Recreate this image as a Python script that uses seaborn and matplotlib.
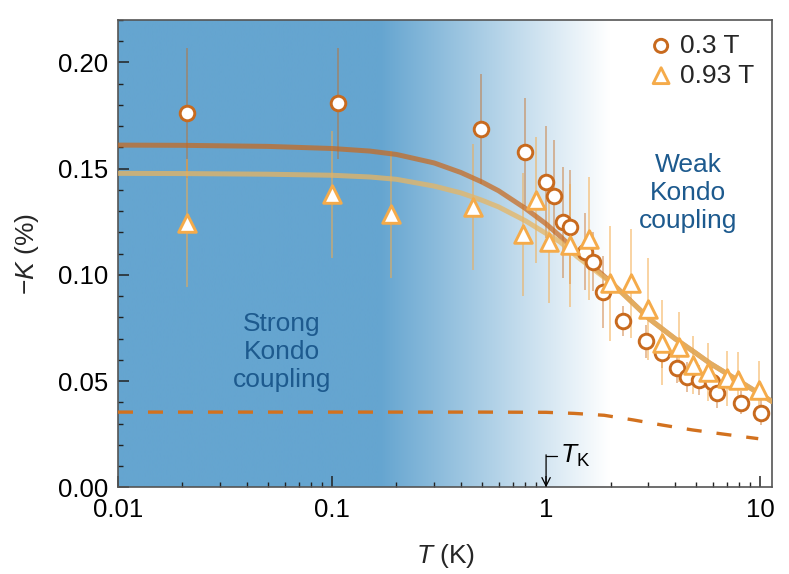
import numpy as np
import pandas as pd
import matplotlib
matplotlib.use("Agg")
import matplotlib.pyplot as plt
import seaborn as sns
from matplotlib.ticker import FixedLocator, MultipleLocator, LogLocator, NullFormatter, FuncFormatter

# ---------------- data ----------------
T_03 = [0.0210, 0.107, 0.498, 0.798, 0.997, 1.093, 1.197, 1.294, 1.526, 1.66, 1.84,
        2.28, 2.93, 3.48, 4.08, 4.57, 5.20, 5.94, 6.28, 8.13, 10.1]
K_03 = [0.1761, 0.1807, 0.1688, 0.1579, 0.1438, 0.1371, 0.1247, 0.1226, 0.1110, 0.1062, 0.0920,
        0.0784, 0.0688, 0.0633, 0.0560, 0.0518, 0.0505, 0.0497, 0.0445, 0.0398, 0.0351]
E_03 = [0.0307, 0.0262, 0.0258, 0.0256, 0.0262, 0.0264, 0.0260, 0.0267, 0.0180, 0.0140, 0.0170,
        0.0070, 0.0077, 0.0070, 0.0070, 0.0070, 0.0070, 0.0070, 0.0070, 0.0055, 0.0060]

T_093 = [0.0209, 0.0997, 0.189, 0.457, 0.778, 0.898, 1.036, 1.294, 1.59, 1.99,
         2.49, 3.00, 3.47, 4.20, 4.88, 5.73, 6.98, 7.92, 9.83]
K_093 = [0.1244, 0.1379, 0.1285, 0.1320, 0.1192, 0.1352, 0.1156, 0.1140, 0.1171, 0.0960,
         0.0960, 0.0839, 0.0680, 0.0662, 0.0576, 0.0544, 0.0513, 0.0505, 0.0458]
E_093 = [0.0300, 0.0300, 0.0300, 0.0295, 0.0290, 0.0297, 0.0290, 0.0290, 0.0290, 0.0270,
         0.0255, 0.0240, 0.0200, 0.0165, 0.0137, 0.0137, 0.0130, 0.0130, 0.0137]

fit_T = [0.01, 0.02, 0.05, 0.1, 0.15, 0.2, 0.3, 0.4, 0.5, 0.6, 0.8, 1.0, 1.16, 1.4, 1.7,
         2.0, 2.5, 3.06, 4.0, 5.0, 5.83, 7.0, 8.5, 10.0, 11.4]
fit_03 = [0.1611, 0.1610, 0.1605, 0.1595, 0.1583, 0.1567, 0.1527, 0.1482, 0.1438, 0.1396,
          0.1313, 0.1240, 0.1183, 0.1105, 0.1030, 0.0968, 0.0875, 0.0790, 0.0700, 0.0632,
          0.0584, 0.0535, 0.0483, 0.0439, 0.0403]
fit_093 = [0.1478, 0.1477, 0.1474, 0.1469, 0.1461, 0.1450, 0.1418, 0.1386, 0.1352, 0.1320,
           0.1255, 0.1195, 0.1156, 0.1085, 0.1020, 0.0965, 0.0874, 0.0790, 0.0700, 0.0632,
           0.0584, 0.0535, 0.0483, 0.0439, 0.0403]

dash_T = [0.01, 0.1, 0.5, 1.0, 1.35, 1.87, 2.56, 3.49, 4.83, 6.67, 9.8]
dash_K = [0.0354, 0.0354, 0.0354, 0.0353, 0.0348, 0.0339, 0.0317, 0.0293, 0.0270, 0.0251, 0.0229]

x_ticks = [0.01, 0.1, 1, 10]
x_tick_labels = ["0.01", "0.1", "1", "10"]
y_ticks = [0.00, 0.05, 0.10, 0.15, 0.20]

# ---------------- style ----------------
sns.set_theme(style="ticks")
plt.rcParams['font.family'] = ['Liberation Sans', 'DejaVu Sans']
plt.rcParams['mathtext.fontset'] = 'custom'
plt.rcParams['mathtext.rm'] = 'Liberation Sans'
plt.rcParams['mathtext.it'] = 'Liberation Sans:italic'
plt.rcParams['axes.unicode_minus'] = True

C_03 = "#c86a1e"
C_093 = "#f5ab4a"
C_FIT03 = "#c8691e"
C_FIT093 = "#e7b562"
C_DASH = "#d2711e"
C_TEXT = "#1d5a8e"
BLUE = np.array([101, 165, 208]) / 255.0

fig = plt.figure(figsize=(7.89, 5.74), dpi=100)
pos = [118 / 789, (574 - 487.3) / 574, (772.3 - 118) / 789, (487.3 - 20) / 574]

# background gradient axes
bg = fig.add_axes(pos, zorder=0)
u = np.linspace(0, 1, 1000)
f = np.clip((u - 0.40) / 0.35, 0, 1)
cols = BLUE[None, :] * (1 - f[:, None]) + np.ones(3)[None, :] * f[:, None]
bg.imshow(cols[None, :, :], extent=[0, 1, 0, 1], aspect='auto', interpolation='bilinear')
bg.set_xlim(0, 1); bg.set_ylim(0, 1)
bg.axis('off')

ax = fig.add_axes(pos, zorder=1)
ax.set_facecolor('none')
ax.set_xscale('log')

# error bars
ax.errorbar(T_03, K_03, yerr=E_03, fmt='none', ecolor=C_03, elinewidth=1.2, alpha=0.5, zorder=2)
ax.errorbar(T_093, K_093, yerr=E_093, fmt='none', ecolor=C_093, elinewidth=1.2, alpha=0.6, zorder=2)

# fit curves
df_fit = pd.DataFrame({"T": fit_T, "K03": fit_03, "K093": fit_093})
sns.lineplot(data=df_fit, x="T", y="K03", ax=ax, color=C_FIT03, lw=3.6, alpha=0.72,
             estimator=None, sort=False, zorder=3)
sns.lineplot(data=df_fit, x="T", y="K093", ax=ax, color=C_FIT093, lw=3.6, alpha=0.75,
             estimator=None, sort=False, zorder=3)
df_dash = pd.DataFrame({"T": dash_T, "K": dash_K})
sns.lineplot(data=df_dash, x="T", y="K", ax=ax, color=C_DASH, lw=2.4,
             estimator=None, sort=False, zorder=3, dashes=False)
ax.lines[-1].set_dashes((4.5, 4.5))

# markers
df03 = pd.DataFrame({"T": T_03, "K": K_03})
df093 = pd.DataFrame({"T": T_093, "K": K_093})
sns.scatterplot(data=df03, x="T", y="K", ax=ax, marker='o', s=110, facecolor='white',
                edgecolor=C_03, linewidth=2.1, zorder=5, label="0.3 T")
sns.scatterplot(data=df093, x="T", y="K", ax=ax, marker='^', s=160, facecolor='white',
                edgecolor=C_093, linewidth=2.1, zorder=5, label="0.93 T")

# legend
leg = ax.legend(loc='upper right', bbox_to_anchor=(1.0, 1.01), frameon=False, fontsize=19,
                handletextpad=0.15, labelspacing=0.22, borderaxespad=0.3, handlelength=1.1,
                markerscale=0.9)
for h, c in zip(leg.legend_handles, [C_03, C_093]):
    h.set_facecolor('none')
    h.set_edgecolor(c)

# annotations
ax.text(0.0583, 0.0637, "Strong\nKondo\ncoupling", ha='center', va='center', fontsize=19,
        color=C_TEXT, linespacing=1.2)
ax.text(4.61, 0.1385, "Weak\nKondo\ncoupling", ha='center', va='center', fontsize=19,
        color=C_TEXT, linespacing=1.2)
ax.plot([1.12, 1.0], [0.0149, 0.0149], color='black', lw=0.9, zorder=4)
ax.annotate('', xy=(1.0, 0.0), xytext=(1.0, 0.0153),
            arrowprops=dict(arrowstyle='->,head_length=0.5,head_width=0.25', color='black', lw=0.9,
                            shrinkA=0, shrinkB=0), zorder=4)
ax.text(1.36, 0.0150, r"$T_{\mathrm{K}}$", ha='center', va='center', fontsize=19, color='black')

# axes
ax.set_xlim(0.01, 11.4)
ax.set_ylim(0, 0.22)
ax.xaxis.set_major_locator(FixedLocator(x_ticks))
ax.set_xticklabels(x_tick_labels)
ax.xaxis.set_minor_locator(LogLocator(base=10, subs=np.arange(2, 10), numticks=20))
ax.xaxis.set_minor_formatter(NullFormatter())
ax.yaxis.set_major_locator(FixedLocator(y_ticks))
ax.yaxis.set_minor_locator(MultipleLocator(0.01))
ax.yaxis.set_major_formatter(FuncFormatter(lambda v, p: f"{v:.2f}"))
ax.tick_params(which='both', direction='in', top=False, right=False, colors='#222222',
               labelcolor='black', labelsize=18.5)
ax.tick_params(which='major', length=7.7, width=1.1)
ax.tick_params(which='minor', length=3.5, width=1.0)
ax.tick_params(axis='x', which='major', pad=8)
ax.tick_params(axis='y', which='major', pad=7)
for s in ax.spines.values():
    s.set_color('#555555')
    s.set_linewidth(1.2)

ax.set_xlabel(r"$\mathit{T}$ (K)", fontsize=19, labelpad=14)
ax.set_ylabel("\u2212" + r"$\mathit{K}$ (%)", fontsize=19, labelpad=12)

fig.savefig("out.png", dpi=100)
